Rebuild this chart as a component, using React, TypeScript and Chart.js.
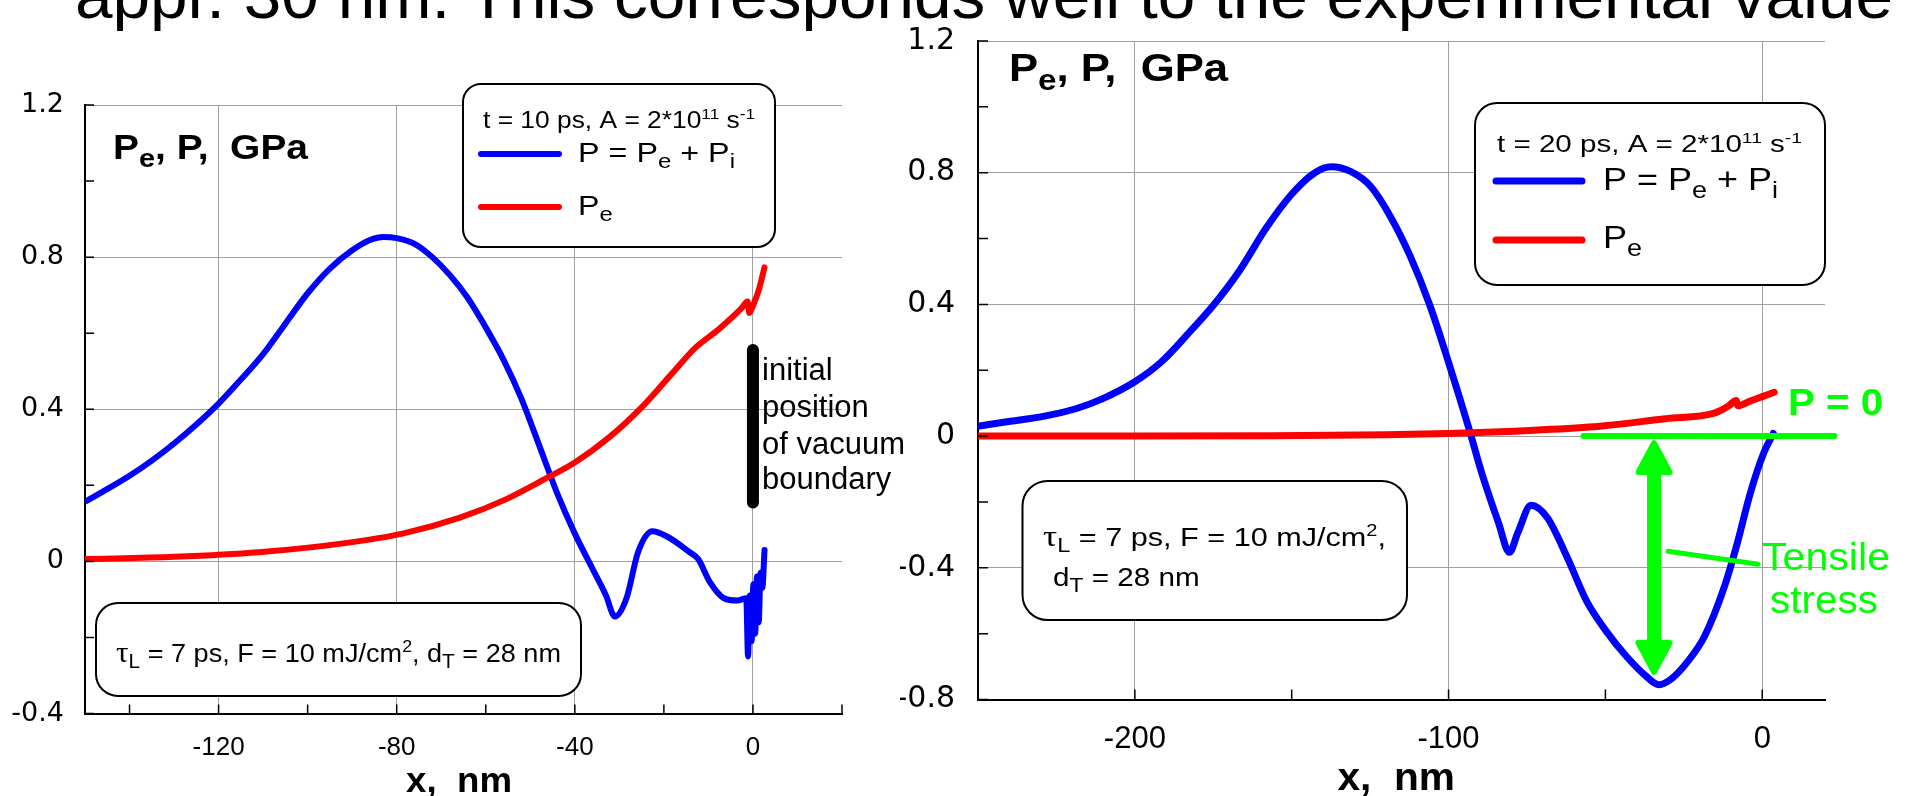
import React, { useEffect, useRef } from "react";
import { Chart, registerables } from "chart.js";
Chart.register(...registerables);

const SANS = "'Liberation Sans', Arial, Helvetica, sans-serif";
const WIDE = "'DejaVu Sans', 'Liberation Sans', Arial, sans-serif";
const SERIF = "'Liberation Serif', 'DejaVu Serif', serif";

// ---------- data: t = 10 ps (left panel) ----------
const p10X = [-150, -145, -140, -135, -130, -125, -120, -115, -110, -105, -100, -95, -90, -86, -83, -80, -76, -72, -68, -64, -60, -56, -52, -48, -44, -40, -36, -33, -31, -28.4, -25.8, -22.6, -19.4, -14.2, -12.3, -9.7, -6.5, -3.5, -1.5, -1.1, -0.7, -0.3, 0.1, 0.5, 0.9, 1.3, 1.7, 2.1, 2.6];
const p10Y = [0.157, 0.19, 0.225, 0.265, 0.31, 0.36, 0.415, 0.478, 0.545, 0.625, 0.705, 0.77, 0.818, 0.845, 0.853, 0.85, 0.835, 0.8, 0.752, 0.692, 0.615, 0.53, 0.428, 0.305, 0.18, 0.073, -0.02, -0.09, -0.145, -0.097, 0.024, 0.079, 0.066, 0.024, 0.006, -0.054, -0.097, -0.103, -0.097, -0.25, -0.09, -0.21, -0.06, -0.19, -0.04, -0.16, -0.03, -0.07, 0.03];
const pe10X = [-150, -130, -111, -91.6, -78.7, -65.8, -55.5, -46.5, -40, -32.3, -24.5, -18.1, -12.9, -7.7, -2.6, -1.2, -0.8, 0, 1.3, 2.6];
const pe10Y = [0.006, 0.012, 0.024, 0.048, 0.073, 0.115, 0.163, 0.218, 0.26, 0.326, 0.411, 0.495, 0.562, 0.61, 0.665, 0.683, 0.653, 0.672, 0.713, 0.773];

// ---------- data: t = 20 ps (right panel) ----------
const p20X = [-250, -239.7, -229.2, -218.8, -210.4, -200, -191.6, -183.3, -174.9, -166.6, -158.2, -149.9, -142.6, -137.4, -131.1, -124.8, -118.6, -112.3, -106, -99.8, -93.5, -89.4, -84.1, -80.6, -77.9, -73.7, -68.5, -62.2, -55.9, -49.7, -43.4, -37.2, -33, -28.8, -23.6, -18.4, -12.1, -7.9, -3.8, 0.4, 3.5];
const p20Y = [0.03, 0.045, 0.06, 0.083, 0.113, 0.165, 0.225, 0.308, 0.398, 0.503, 0.631, 0.736, 0.8, 0.818, 0.803, 0.758, 0.668, 0.548, 0.398, 0.218, 0.023, -0.113, -0.263, -0.353, -0.293, -0.21, -0.248, -0.368, -0.503, -0.593, -0.668, -0.728, -0.755, -0.736, -0.683, -0.608, -0.458, -0.323, -0.173, -0.053, 0.008];
const pe20X = [-250, -200, -156, -120, -100, -72.7, -51.8, -30.9, -15.3, -11, -8.3, -7.8, -4, 0, 3.8];
const pe20Y = [0, 0, 0.001, 0.004, 0.008, 0.018, 0.03, 0.053, 0.07, 0.09, 0.108, 0.092, 0.106, 0.12, 0.133];

// ---------- axes ----------
const leftXRange = [-150, 20];
const leftYRange = [-0.4, 1.2];
const leftXTicks = [-120, -80, -40, 0];
const leftYTicks = [-0.4, 0, 0.4, 0.8, 1.2];
const rightXRange = [-250, 20];
const rightYRange = [-0.8, 1.2];
const rightXTicks = [-200, -100, 0];
const rightYTicks = [-0.8, -0.4, 0, 0.4, 0.8, 1.2];

const TITLE = "appr. 30 nm. This corresponds well to the experimental value";
const BLUE = "#0000ff";
const RED = "#ff0000";
const GREEN = "#00ff00";
const GRID = "#a0a0a0";

type Seg = [string, string?];

function fontFor(kind: string | undefined, size: number, bold: boolean) {
  const wt = bold ? "bold " : "";
  if (kind === "sub") return `${wt}${Math.round(size * 0.75)}px ${SANS}`;
  if (kind === "sup") return `${wt}${Math.round(size * 0.65)}px ${SANS}`;
  if (kind === "g") return `${wt}${Math.round(size * 1.15)}px ${SERIF}`;
  return `${wt}${size}px ${SANS}`;
}
function dyFor(kind: string | undefined, size: number) {
  if (kind === "sub") return size * 0.24;
  if (kind === "sup") return -size * 0.4;
  return 0;
}
function drawRich(ctx: CanvasRenderingContext2D, segs: Seg[], x: number, y: number, o: { size: number; bold?: boolean; color?: string; w?: number; sx?: number }) {
  const bold = !!o.bold;
  ctx.save();
  let total = 0;
  const widths = segs.map(([t, k]) => {
    ctx.font = fontFor(k, o.size, bold);
    const m = ctx.measureText(t).width;
    total += m;
    return m;
  });
  const k = o.w ? o.w / total : o.sx ?? 1;
  ctx.translate(x, y);
  ctx.scale(k, 1);
  ctx.fillStyle = o.color ?? "#000";
  ctx.textBaseline = "alphabetic";
  ctx.textAlign = "left";
  let cx = 0;
  segs.forEach(([t, kind], i) => {
    ctx.font = fontFor(kind, o.size, bold);
    ctx.fillText(t, cx, dyFor(kind, o.size));
    cx += widths[i];
  });
  ctx.restore();
}
function roundBox(ctx: CanvasRenderingContext2D, x0: number, y0: number, x1: number, y1: number, r: number) {
  ctx.save();
  ctx.beginPath();
  (ctx as any).roundRect(x0, y0, x1 - x0, y1 - y0, r);
  ctx.fillStyle = "#fff";
  ctx.fill();
  ctx.lineWidth = 2;
  ctx.strokeStyle = "#000";
  ctx.stroke();
  ctx.restore();
}
function stroke(ctx: CanvasRenderingContext2D, x0: number, y0: number, x1: number, y1: number, color: string, w: number, cap: CanvasLineCap = "round") {
  ctx.save();
  ctx.beginPath();
  ctx.moveTo(x0, y0);
  ctx.lineTo(x1, y1);
  ctx.strokeStyle = color;
  ctx.lineWidth = w;
  ctx.lineCap = cap;
  ctx.stroke();
  ctx.restore();
}
function tickMarks(chart: any, xStep: number, yStep: number, len: number) {
  const { ctx, chartArea: a } = chart;
  const xs = chart.scales.x;
  const ys = chart.scales.y;
  ctx.save();
  ctx.strokeStyle = "#000";
  ctx.lineWidth = 1.5;
  ctx.beginPath();
  for (let i = Math.ceil(xs.min / xStep - 1e-9); i * xStep <= xs.max + 1e-9; i++) {
    const px = xs.getPixelForValue(i * xStep);
    ctx.moveTo(px, a.bottom);
    ctx.lineTo(px, a.bottom - len);
  }
  for (let i = Math.ceil(ys.min / yStep - 1e-9); i * yStep <= ys.max + 1e-9; i++) {
    const py = ys.getPixelForValue(i * yStep);
    ctx.moveTo(a.left, py);
    ctx.lineTo(a.left + len, py);
  }
  ctx.stroke();
  ctx.restore();
}

function makeOptions(c: any) {
  const near = (a: number, b: number) => Math.abs(a - b) < 1e-9;
  return {
    responsive: false,
    animation: false,
    devicePixelRatio: 1,
    layout: { padding: { top: c.padTop, right: c.padRight, left: 0, bottom: 0 } },
    plugins: { legend: { display: false }, tooltip: { enabled: false }, title: { display: false } },
    elements: { point: { radius: 0 }, line: { borderCapStyle: "round", borderJoinStyle: "round" } },
    scales: {
      x: {
        type: "linear",
        min: c.xRange[0],
        max: c.xRange[1],
        afterBuildTicks: (s: any) => { s.ticks = c.xTicks.map((v: number) => ({ value: v })); },
        afterFit: (s: any) => { s.height = c.xHeight; },
        ticks: { font: { family: SANS, size: c.xFont }, color: "#000", padding: c.xPad, maxRotation: 0, autoSkip: false, callback: (v: number) => String(v) },
        grid: { color: GRID, lineWidth: 1, drawTicks: false },
        border: { display: true, color: "#000", width: 2 },
      },
      y: {
        type: "linear",
        min: c.yRange[0],
        max: c.yRange[1],
        afterBuildTicks: (s: any) => { s.ticks = c.yTicks.map((v: number) => ({ value: v })); },
        afterFit: (s: any) => { s.width = c.yWidth; },
        ticks: { font: { family: WIDE, size: c.yFont }, color: "#000", padding: c.yPad, autoSkip: false, callback: (v: number) => String(v) },
        grid: {
          color: (g: any) => (g.tick && near(g.tick.value, c.yRange[0]) ? "rgba(0,0,0,0)" : GRID),
          lineWidth: 1,
          drawTicks: false,
        },
        border: { display: true, color: "#000", width: 2 },
      },
    },
  };
}

function series(xs: number[], ys: number[], color: string, width: number) {
  return {
    data: xs.map((x, i) => ({ x, y: ys[i] })),
    borderColor: color,
    backgroundColor: color,
    borderWidth: width,
    pointRadius: 0,
    fill: false,
    cubicInterpolationMode: "monotone",
  };
}

const leftAnno = {
  id: "leftAnno",
  afterDraw(chart: any) {
    const ctx = chart.ctx as CanvasRenderingContext2D;
    const xs = chart.scales.x;
    const ys = chart.scales.y;
    tickMarks(chart, 20, 0.2, 9);
    // vacuum boundary bar
    const bx = xs.getPixelForValue(0);
    stroke(ctx, bx, ys.getPixelForValue(0.556), bx, ys.getPixelForValue(0.155), "#000", 12);
    drawRich(ctx, [["initial"]], 762, 380, { size: 31 });
    drawRich(ctx, [["position"]], 762, 417, { size: 31 });
    drawRich(ctx, [["of vacuum"]], 762, 454, { size: 31 });
    drawRich(ctx, [["boundary"]], 762, 489, { size: 31 });
    // legend box
    roundBox(ctx, 463, 84, 775, 247, 18);
    drawRich(ctx, [["t = 10 ps, A = 2*10"], ["11", "sup"], [" s"], ["-1", "sup"]], 483, 128, { size: 23, w: 272 });
    stroke(ctx, 481, 154, 559, 154, BLUE, 6);
    drawRich(ctx, [["P = P"], ["e", "sub"], [" + P"], ["i", "sub"]], 578, 162, { size: 27, w: 157 });
    stroke(ctx, 481, 207, 559, 207, RED, 6);
    drawRich(ctx, [["P"], ["e", "sub"]], 578, 215, { size: 27, sx: 1.19 });
    // parameter box
    roundBox(ctx, 96, 603, 581, 696, 22);
    drawRich(ctx, [["\u03C4", "g"], ["L", "sub"], [" = 7 ps, F = 10 mJ/cm"], ["2", "sup"], [", d"], ["T", "sub"], [" = 28 nm"]], 116, 662, { size: 26, w: 445 });
    // axis caption
    drawRich(ctx, [["P"], ["e", "sub"], [", P,  GPa"]], 113, 159, { size: 35, bold: true, w: 195 });
    drawRich(ctx, [["x,  nm"]], 406, 792, { size: 35, bold: true, w: 106 });
  },
};

const rightAnno = {
  id: "rightAnno",
  afterDraw(chart: any) {
    const ctx = chart.ctx as CanvasRenderingContext2D;
    const xs = chart.scales.x;
    const ys = chart.scales.y;
    tickMarks(chart, 50, 0.2, 10);
    // legend box
    roundBox(ctx, 575, 103, 925, 285, 22);
    drawRich(ctx, [["t = 20 ps, A = 2*10"], ["11", "sup"], [" s"], ["-1", "sup"]], 597, 152, { size: 23, w: 305 });
    stroke(ctx, 596, 181, 682, 181, BLUE, 7);
    drawRich(ctx, [["P = P"], ["e", "sub"], [" + P"], ["i", "sub"]], 703, 190, { size: 32, w: 175 });
    stroke(ctx, 596, 240, 682, 240, RED, 7);
    drawRich(ctx, [["P"], ["e", "sub"]], 703, 248, { size: 32, sx: 1.125 });
    // parameter box
    roundBox(ctx, 122.5, 481, 507, 620, 25);
    drawRich(ctx, [["\u03C4", "g"], ["L", "sub"], [" = 7 ps, F = 10 mJ/cm"], ["2", "sup"], [","]], 143, 546, { size: 26, w: 343 });
    drawRich(ctx, [["d"], ["T", "sub"], [" = 28 nm"]], 153, 586, { size: 26, sx: 1.14 });
    // captions
    drawRich(ctx, [["P"], ["e", "sub"], [", P,  GPa"]], 109, 81, { size: 38, bold: true, w: 219 });
    drawRich(ctx, [["x,  nm"]], 437.5, 790, { size: 38, bold: true, w: 117.5 });
    // P = 0 line
    const y0 = ys.getPixelForValue(0);
    stroke(ctx, xs.getPixelForValue(-57), y0, xs.getPixelForValue(23), y0, GREEN, 6);
    drawRich(ctx, [["P = 0"]], 888, 415, { size: 37, bold: true, color: GREEN, w: 95 });
    // double arrow
    const ax = xs.getPixelForValue(-34.5);
    const yTop = ys.getPixelForValue(-0.012);
    const yBot = ys.getPixelForValue(-0.725);
    stroke(ctx, ax, yTop + 25, ax, yBot - 25, GREEN, 14, "butt");
    ctx.save();
    ctx.fillStyle = GREEN;
    ctx.strokeStyle = GREEN;
    ctx.lineWidth = 6;
    ctx.lineJoin = "round";
    ctx.beginPath();
    ctx.moveTo(ax, yTop + 3);
    ctx.lineTo(ax + 15.5, yTop + 32);
    ctx.lineTo(ax - 15.5, yTop + 32);
    ctx.closePath();
    ctx.moveTo(ax, yBot - 3);
    ctx.lineTo(ax + 15.5, yBot - 32);
    ctx.lineTo(ax - 15.5, yBot - 32);
    ctx.closePath();
    ctx.fill();
    ctx.stroke();
    ctx.restore();
    // pointer
    stroke(ctx, xs.getPixelForValue(-30), ys.getPixelForValue(-0.35), xs.getPixelForValue(-1.3), ys.getPixelForValue(-0.389), GREEN, 5);
    drawRich(ctx, [["Tensile"]], 862, 570, { size: 38, color: GREEN, w: 128 });
    drawRich(ctx, [["stress"]], 870, 613, { size: 38, color: GREEN, w: 108 });
  },
};

export default function App() {
  const leftRef = useRef<HTMLCanvasElement>(null);
  const rightRef = useRef<HTMLCanvasElement>(null);
  const titleRef = useRef<HTMLDivElement>(null);

  useEffect(() => {
    const t = titleRef.current;
    if (t) {
      t.style.transform = "none";
      const w = t.getBoundingClientRect().width;
      if (w > 0) t.style.transform = `scaleX(${1818 / w})`;
    }
    const left = new Chart(leftRef.current as HTMLCanvasElement, {
      type: "line",
      data: {
        datasets: [series(pe10X, pe10Y, RED, 6), series(p10X, p10Y, BLUE, 6)] as any,
      },
      options: makeOptions({
        xRange: leftXRange, yRange: leftYRange, xTicks: leftXTicks, yTicks: leftYTicks,
        padTop: 105, padRight: 118, yWidth: 85, xHeight: 82.5, xFont: 26, yFont: 27, xPad: 19, yPad: 21,
      }) as any,
      plugins: [leftAnno],
    });
    const right = new Chart(rightRef.current as HTMLCanvasElement, {
      type: "line",
      data: {
        datasets: [series(pe20X, pe20Y, RED, 7), series(p20X, p20Y, BLUE, 7)] as any,
      },
      options: makeOptions({
        xRange: rightXRange, yRange: rightYRange, xTicks: rightXTicks, yTicks: rightYTicks,
        padTop: 23, padRight: 80, yWidth: 78, xHeight: 96.5, xFont: 31, yFont: 30, xPad: 21, yPad: 23,
      }) as any,
      plugins: [rightAnno],
    });
    return () => {
      left.destroy();
      right.destroy();
    };
  }, []);

  return (
    <div style={{ position: "fixed", left: 0, top: 0, width: 1905, height: 796, overflow: "hidden", background: "#fff" }}>
      <div
        ref={titleRef}
        style={{ position: "absolute", left: 75, top: -36, fontFamily: SANS, fontSize: 64, lineHeight: "64px", whiteSpace: "nowrap", transformOrigin: "0 0", color: "#000" }}
      >
        {TITLE}
      </div>
      <canvas ref={leftRef} width={960} height={796} style={{ position: "absolute", left: 0, top: 0, width: 960, height: 796 }} />
      <canvas ref={rightRef} width={1005} height={796} style={{ position: "absolute", left: 900, top: 0, width: 1005, height: 796 }} />
    </div>
  );
}
